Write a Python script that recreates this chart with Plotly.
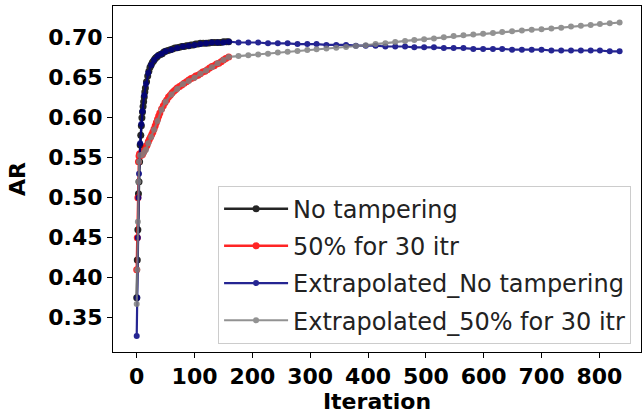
import plotly.graph_objects as go

# ---- data ----
iter_no_tamper = [0, 1, 2, 3, 4, 5, 6, 7, 8, 9, 10, 11, 12, 13, 14, 15, 17, 19, 21, 23, 25,
                  27, 29, 31, 33, 35, 38, 41, 44, 47, 50, 54, 58, 62, 66, 70, 74, 78, 82, 86,
                  90, 94, 98, 102, 106, 110, 115, 120, 125, 130, 135, 140, 145, 150, 155, 159]
ar_no_tamper = [0.375, 0.422, 0.460, 0.505, 0.520, 0.545, 0.566, 0.578, 0.590, 0.600, 0.607,
                0.614, 0.620, 0.626, 0.632, 0.637, 0.645, 0.652, 0.658, 0.663, 0.666, 0.669,
                0.671, 0.673, 0.675, 0.676, 0.678, 0.679, 0.680, 0.682, 0.683, 0.684, 0.685,
                0.686, 0.687, 0.6875, 0.688, 0.689, 0.689, 0.690, 0.690, 0.691, 0.691, 0.692,
                0.692, 0.693, 0.693, 0.693, 0.6935, 0.694, 0.694, 0.694, 0.694, 0.695, 0.695,
                0.695]

iter_tamper = [0, 1, 2, 3, 4, 5, 6, 7, 8, 10, 12, 14, 16, 18, 20, 22, 24, 26, 28, 30, 32, 34,
               36, 38, 40, 43, 46, 49, 52, 55, 58, 61, 64, 67, 70, 74, 78, 82, 86, 90, 94, 98,
               102, 106, 110, 114, 118, 122, 126, 130, 134, 138, 142, 146, 150, 154, 159]
ar_tamper = [0.410, 0.450, 0.500, 0.545, 0.552, 0.555, 0.554, 0.553, 0.553, 0.554, 0.557,
             0.560, 0.563, 0.566, 0.570, 0.573, 0.576, 0.579, 0.582, 0.586, 0.590, 0.594,
             0.598, 0.602, 0.606, 0.611, 0.615, 0.619, 0.622, 0.626, 0.628, 0.631, 0.633,
             0.635, 0.637, 0.639, 0.641, 0.643, 0.645, 0.647, 0.649, 0.650, 0.652, 0.653,
             0.655, 0.657, 0.658, 0.660, 0.662, 0.664, 0.665, 0.667, 0.668, 0.670, 0.672,
             0.674, 0.676]

iter_extrap = [0, 1, 2, 3, 4, 6, 8, 10, 13, 16, 20, 25, 30, 36, 43, 50, 60, 70, 80, 90, 100,
               110, 120, 130, 140, 150, 159, 176, 193, 210, 227, 244, 261, 278, 295, 311, 328,
               345, 362, 379, 396, 413, 430, 447, 464, 480, 497, 514, 531, 548, 565, 582, 599,
               616, 632, 649, 666, 683, 700, 717, 734, 751, 768, 785, 801, 818, 835]
ar_extrap_no_tamper = [0.327, 0.375, 0.450, 0.500, 0.530, 0.568, 0.592, 0.608, 0.628, 0.642,
                       0.656, 0.666, 0.672, 0.677, 0.680, 0.683, 0.685, 0.687, 0.689, 0.690,
                       0.691, 0.692, 0.693, 0.694, 0.694, 0.694, 0.695, 0.694, 0.694, 0.694,
                       0.693, 0.693, 0.693, 0.692, 0.692, 0.692, 0.691, 0.691, 0.691, 0.690,
                       0.690, 0.690, 0.689, 0.689, 0.689, 0.688, 0.688, 0.688, 0.687, 0.687,
                       0.687, 0.686, 0.686, 0.686, 0.686, 0.685, 0.685, 0.685, 0.685, 0.684,
                       0.684, 0.684, 0.684, 0.684, 0.684, 0.683, 0.683]
ar_extrap_tamper = [0.367, 0.410, 0.470, 0.520, 0.545, 0.553, 0.553, 0.554, 0.557, 0.560,
                    0.568, 0.576, 0.585, 0.596, 0.610, 0.620, 0.629, 0.636, 0.642, 0.646,
                    0.650, 0.655, 0.659, 0.663, 0.668, 0.672, 0.676, 0.677, 0.678, 0.679,
                    0.680, 0.6815, 0.6825, 0.6835, 0.6845, 0.6855, 0.6865, 0.6875, 0.6885,
                    0.6895, 0.6905, 0.692, 0.693, 0.6945, 0.696, 0.697, 0.698, 0.699, 0.7005,
                    0.702, 0.703, 0.704, 0.705, 0.706, 0.707, 0.708, 0.709, 0.710, 0.7105,
                    0.7115, 0.7125, 0.714, 0.715, 0.716, 0.717, 0.718, 0.719]

x_ticks = [0, 100, 200, 300, 400, 500, 600, 700, 800]
y_ticks = [0.35, 0.40, 0.45, 0.50, 0.55, 0.60, 0.65, 0.70]
y_tick_labels = ["0.35", "0.40", "0.45", "0.50", "0.55", "0.60", "0.65", "0.70"]

names = ["No tampering", "50% for 30 itr", "Extrapolated_No tampering",
         "Extrapolated_50% for 30 itr"]
colors = ["black", "red", "#000080", "#808080"]
marker_sizes = [7, 7, 6, 6]
line_widths = [2.5, 2.5, 2.2, 2.2]

fig = go.Figure()
series = [(iter_no_tamper, ar_no_tamper), (iter_tamper, ar_tamper),
          (iter_extrap, ar_extrap_no_tamper), (iter_extrap, ar_extrap_tamper)]
for i, ((xs, ys), name, c) in enumerate(zip(series, names, colors)):
    fig.add_trace(go.Scatter(
        x=xs, y=ys, name=name, mode="lines+markers",
        line=dict(color=c, width=line_widths[i]),
        marker=dict(color=c, size=marker_sizes[i]),
        opacity=0.85, legendgroup=f"g{i}"))

tickfont = dict(family="DejaVu Sans", size=22, color="black", weight="bold")
titlefont = dict(family="DejaVu Sans", size=22, color="black", weight="bold")

fig.update_layout(
    width=644, height=417,
    margin=dict(l=113, r=3, t=6, b=65),
    paper_bgcolor="white", plot_bgcolor="white",
    showlegend=True,
    legend=dict(
        x=0.199, y=0.481, xanchor="left", yanchor="top",
        bgcolor="rgba(255,255,255,0.8)", bordercolor="#cccccc", borderwidth=1,
        font=dict(family="DejaVu Sans", size=24, color="#222222"),
        itemwidth=64, tracegroupgap=3, traceorder="grouped",
    ),
)
fig.update_xaxes(
    range=[-41, 872], tickvals=x_ticks, ticks="outside", ticklen=5, tickwidth=1,
    tickcolor="black", showline=True, linecolor="black", linewidth=1, mirror=True,
    showgrid=False, zeroline=False, tickfont=tickfont,
    title=dict(text="Iteration", font=titlefont, standoff=4),
)
fig.update_yaxes(
    range=[0.3071, 0.7396], tickvals=y_ticks, ticktext=y_tick_labels, ticks="outside",
    ticklen=5, tickwidth=1, tickcolor="black", showline=True, linecolor="black",
    linewidth=1, mirror=True, showgrid=False, zeroline=False, tickfont=tickfont,
    title=dict(text="AR", font=titlefont, standoff=16),
)

fig.write_html("out.html")
